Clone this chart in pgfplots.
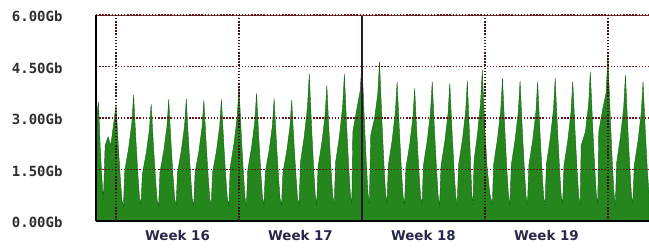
\documentclass[border=0pt]{standalone}
\usepackage{pgfplots}
\pgfplotsset{compat=1.18}
\usepackage{fontspec}
\newfontfamily\monofont{DejaVu Sans Mono}
\newfontfamily\weekfont{DejaVu Sans}
\definecolor{mrtggreen}{RGB}{36,134,28}
\definecolor{mrtgdark}{RGB}{22,100,22}
\definecolor{gridred}{RGB}{95,25,25}
\definecolor{framered}{RGB}{115,50,50}
\definecolor{labelcol}{RGB}{45,45,50}
\definecolor{weekcol}{RGB}{40,40,75}
\definecolor{axisyellow}{RGB}{215,190,60}
\definecolor{monthline}{RGB}{45,25,45}

\pgfplotstableread{
x y
-1.14 2.90
-1.00 3.47
-0.90 2.15
-0.80 1.20
-0.72 0.60
-0.62 2.20
-0.45 2.45
-0.30 2.20
-0.12 2.90
0.00 3.38
0.14 2.10
0.25 1.20
0.34 0.60
0.42 0.45
0.50 1.47
0.72 2.13
0.90 2.86
1.00 3.67
1.14 2.28
1.25 1.32
1.34 0.66
1.42 0.50
1.50 1.36
1.72 1.98
1.90 2.66
2.00 3.41
2.14 2.11
2.25 1.23
2.34 0.61
2.42 0.42
2.50 1.42
2.72 2.05
2.90 2.76
3.00 3.54
3.14 2.19
3.25 1.27
3.34 0.64
3.42 0.48
3.50 1.42
3.72 2.06
3.90 2.77
4.00 3.55
4.14 2.20
4.25 1.28
4.34 0.64
4.42 0.44
4.50 1.41
4.72 2.04
4.90 2.75
5.00 3.52
5.14 2.18
5.25 1.27
5.34 0.63
5.42 0.50
5.50 1.42
5.72 2.05
5.90 2.76
6.00 3.54
6.14 2.19
6.25 1.27
6.34 0.64
6.42 0.46
6.50 1.56
6.72 2.27
6.90 3.05
7.00 3.91
7.14 2.42
7.25 1.41
7.34 0.70
7.42 0.43
7.50 1.49
7.72 2.16
7.90 2.90
8.00 3.72
8.14 2.31
8.25 1.34
8.34 0.67
8.42 0.48
8.50 1.43
8.72 2.07
8.90 2.78
9.00 3.57
9.14 2.21
9.25 1.29
9.34 0.64
9.42 0.45
9.50 1.41
9.72 2.04
9.90 2.75
10.00 3.52
10.14 2.18
10.25 1.27
10.34 0.63
10.42 0.50
10.50 1.71
10.72 2.48
10.90 3.34
11.00 4.28
11.14 2.65
11.25 1.54
11.34 0.77
11.42 0.46
11.50 1.58
11.72 2.29
11.90 3.08
12.00 3.95
12.14 2.45
12.25 1.42
12.34 0.71
12.42 0.52
12.50 1.71
12.72 2.48
12.90 3.34
13.00 4.28
13.14 2.65
13.25 1.54
13.34 0.77
13.42 0.48
13.48 2.60
13.72 3.30
13.90 3.80
14.00 4.64
14.14 2.88
14.25 1.67
14.34 0.84
14.42 0.50
14.50 2.50
14.72 3.00
14.90 3.70
15.00 4.64
15.14 2.88
15.25 1.67
15.34 0.84
15.42 0.47
15.50 1.62
15.72 2.35
15.90 3.17
16.00 4.06
16.14 2.52
16.25 1.46
16.34 0.73
16.42 0.45
16.50 1.54
16.72 2.24
16.90 3.01
17.00 3.86
17.14 2.39
17.25 1.39
17.34 0.69
17.42 0.50
17.50 1.62
17.72 2.35
17.90 3.17
18.00 4.06
18.14 2.52
18.25 1.46
18.34 0.73
18.42 0.44
18.50 1.60
18.72 2.33
18.90 3.13
19.00 4.01
19.14 2.49
19.25 1.44
19.34 0.72
19.42 0.48
19.50 1.63
19.72 2.37
19.90 3.18
20.00 4.08
20.12 2.53
20.20 1.47
20.26 0.73
20.32 0.46
20.38 1.76
20.58 2.55
20.75 3.43
20.85 4.40
20.99 2.73
21.12 1.58
21.28 0.79
21.42 0.50
21.50 1.66
21.72 2.41
21.90 3.24
22.00 4.16
22.14 2.58
22.25 1.50
22.34 0.75
22.42 0.45
22.50 1.63
22.72 2.37
22.90 3.18
23.00 4.08
23.14 2.53
23.25 1.47
23.34 0.73
23.42 0.48
23.50 1.62
23.72 2.35
23.90 3.17
24.00 4.06
24.14 2.52
24.25 1.46
24.34 0.73
24.42 0.44
24.50 1.66
24.72 2.41
24.90 3.24
25.00 4.16
25.14 2.58
25.25 1.50
25.34 0.75
25.42 0.50
25.50 1.62
25.72 2.35
25.90 3.17
26.00 4.06
26.14 2.52
26.25 1.46
26.34 0.73
26.42 0.46
26.48 2.20
26.72 2.60
26.90 3.39
27.00 4.35
27.14 2.70
27.25 1.57
27.34 0.78
27.42 0.48
27.48 2.60
27.72 3.30
27.90 3.74
28.00 4.79
28.14 2.97
28.25 1.72
28.34 0.86
28.42 0.45
28.50 1.70
28.72 2.47
28.90 3.32
29.00 4.25
29.14 2.64
29.25 1.53
29.34 0.77
29.42 0.50
29.50 1.62
29.72 2.35
29.90 3.17
30.00 4.06
30.14 2.52
30.25 1.46
30.34 0.80
}\traffic

\begin{document}
\begin{tikzpicture}
\useasboundingbox (0,0) rectangle (649pt,249pt);
\begin{axis}[
  at={(96pt,28pt)}, anchor=south west,
  scale only axis, width=553pt, height=206pt,
  xmin=-1.14, xmax=30.34, ymin=0, ymax=6,
  axis x line*=bottom, axis y line*=left,
  axis line style={-, black, line width=1.4pt},
  axis on top,
  ytick={0,1.5,3,4.5,6},
  yticklabels={0.00Gb,1.50Gb,3.00Gb,4.50Gb,6.00Gb},
  xtick={3.5,10.5,17.5,24.5},
  xticklabels={Week 16,Week 17,Week 18,Week 19},
  major tick length=0pt,
  ymajorgrids,
  major grid style={gridred, line width=1.6pt, dash pattern=on 1.5pt off 1.6pt},
  extra x ticks={0,7,21,28},
  extra x tick labels={},
  extra x tick style={grid=major, major grid style={gridred!70!black, line width=1.6pt, dash pattern=on 1.5pt off 1.6pt}},
  yticklabel style={font=\monofont\bfseries\fontsize{14}{14}\selectfont, text=labelcol, xshift=-30pt, yshift=-1.5pt},
  xticklabel style={font=\weekfont\bfseries\fontsize{13.4}{14}\selectfont, text=weekcol, yshift=-6pt},
]
\addplot[fill=mrtggreen, draw=mrtgdark, line width=0.4pt] table[x=x, y=y] {\traffic} \closedcycle;
\addplot[color=monthline, line width=1.6pt, forget plot] coordinates {(14,0) (14,6)};
\draw[framered, line width=1.6pt] (rel axis cs:0,1) -- (rel axis cs:1,1);
\draw[axisyellow, line width=1.4pt] ([yshift=-1.5pt]rel axis cs:0,0) -- ([yshift=-1.5pt]rel axis cs:1,0);
\end{axis}
\end{tikzpicture}
\end{document}
